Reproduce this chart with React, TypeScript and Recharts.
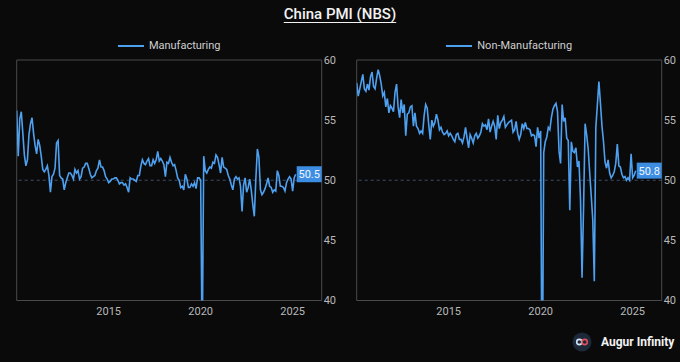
import React from 'react';
import { LineChart, Line, XAxis, YAxis, ReferenceLine, ReferenceArea, ReferenceDot, Legend } from 'recharts';

// monthly readings, Jan 2010 .. Mar 2025
const START_YEAR = 2010;
const X_MAX = 2026.58;
const yearTicks = [2015, 2020, 2025];
const pmiTicks = [40, 45, 50, 55, 60];

const manufacturing = [
    55.8, 52.0, 55.1, 55.7, 53.9, 52.1, 51.2, 51.7, 53.8, 54.7, 55.2, 53.9,
    52.9, 52.2, 53.4, 52.9, 52.0, 50.9, 50.7, 50.9, 51.2, 50.4, 49.0, 50.3,
    50.5, 51.0, 53.1, 53.3, 50.4, 50.2, 50.1, 49.2, 49.8, 50.2, 50.6, 50.6,
    50.4, 50.1, 50.9, 50.6, 50.8, 50.1, 50.3, 51.0, 51.1, 51.4, 51.4, 51.0,
    50.5, 50.2, 50.3, 50.4, 50.8, 51.0, 51.7, 51.1, 51.1, 50.8, 50.3, 50.1,
    49.8, 49.9, 50.1, 50.1, 50.2, 50.2, 50.0, 49.7, 49.8, 49.8, 49.6, 49.7,
    49.4, 49.0, 50.2, 50.1, 50.1, 50.0, 49.9, 50.4, 50.4, 51.2, 51.7, 51.4,
    51.3, 51.6, 51.8, 51.2, 51.2, 51.7, 51.4, 51.7, 52.4, 51.6, 51.8, 51.6,
    51.3, 50.3, 51.5, 51.4, 51.9, 51.5, 51.2, 51.3, 50.8, 50.2, 50.0, 49.4,
    49.5, 49.2, 50.5, 50.1, 49.4, 49.4, 49.7, 49.5, 49.8, 49.3, 50.2, 50.2,
    50.0, 35.7, 52.0, 50.8, 50.6, 50.9, 51.1, 51.0, 51.5, 51.4, 52.1, 51.9,
    51.3, 50.6, 51.9, 51.1, 51.0, 50.9, 50.4, 50.1, 49.6, 49.2, 50.1, 50.3,
    50.1, 50.2, 49.5, 47.4, 49.6, 50.2, 49.0, 49.4, 50.1, 49.2, 48.0, 47.0,
    50.1, 52.6, 51.9, 49.2, 48.8, 49.0, 49.3, 49.7, 50.2, 49.5, 49.4, 49.0,
    49.2, 49.1, 50.8, 50.4, 49.5, 49.5, 49.4, 49.1, 49.8, 50.1, 50.3, 50.1,
    49.1, 50.2, 50.5,
];

const nonManufacturing = [
    58.1, 57.0, 57.6, 58.2, 58.8, 57.6, 57.4, 58.0, 57.5, 58.6, 59.0, 57.8,
    57.6, 58.5, 59.2, 58.7, 58.0, 57.0, 57.3, 56.1, 56.8, 55.6, 56.2, 56.0,
    55.7, 57.3, 58.0, 56.1, 55.2, 56.7, 55.6, 56.3, 53.7, 55.5, 55.6, 56.1,
    56.2, 54.5, 55.6, 54.5, 54.3, 53.9, 54.1, 53.9, 55.4, 56.3, 56.0, 54.6,
    53.4, 55.0, 54.5, 54.8, 55.5, 55.0, 54.2, 54.4, 54.0, 53.8, 53.9, 54.1,
    53.7, 53.9, 53.7, 53.4, 53.2, 53.8, 53.9, 53.4, 53.4, 53.1, 53.6, 54.4,
    53.5, 52.7, 53.8, 53.5, 53.1, 53.7, 53.9, 53.5, 53.7, 54.0, 54.7, 54.5,
    54.6, 54.2, 55.1, 54.0, 54.5, 54.9, 54.5, 53.4, 55.4, 54.3, 54.8, 55.0,
    55.3, 54.4, 54.6, 54.8, 54.9, 55.0, 54.0, 54.2, 54.9, 53.9, 53.4, 53.8,
    54.7, 54.3, 54.8, 54.3, 54.3, 54.2, 53.7, 53.8, 53.7, 52.8, 54.4, 53.5,
    54.1, 29.6, 52.3, 53.2, 53.6, 54.4, 54.2, 55.2, 55.9, 56.2, 56.4, 55.7,
    52.4, 51.4, 56.3, 54.9, 55.2, 53.5, 53.3, 47.5, 53.2, 52.4, 52.3, 52.7,
    51.1, 51.6, 48.4, 41.9, 47.8, 54.7, 53.8, 52.6, 50.6, 48.7, 46.7, 41.6,
    54.4, 56.3, 58.2, 56.4, 54.5, 53.2, 51.5, 51.0, 51.7, 50.6, 50.2, 50.4,
    50.7, 51.4, 53.0, 51.2, 51.1, 50.5, 50.2, 50.3, 50.0, 50.2, 50.0, 52.2,
    50.2, 50.4, 50.8,
];

const LINE_COLOR = '#4ea1f0';
const TEXT_COLOR = '#b8b8b8';
const FONT = 'Roboto, sans-serif';

const LastTag = (props: any) => {
    const { cx, cy, label } = props;
    if (cx == null || cy == null) return null;
    return (
        <g>
            <rect x={cx + 1} y={cy - 8} width={25} height={16} fill="#3d8ee2" />
            <text x={cx + 13.5} y={cy} dy="0.36em" textAnchor="middle" fontSize={11} fill="#eef5ff" fontFamily={FONT}>
                {label}
            </text>
        </g>
    );
};

interface PanelProps {
    name: string;
    values: number[];
    left: number;
}

const Panel: React.FC<PanelProps> = ({ name, values, left }) => {
    const data = values.map((v, i) => ({ t: START_YEAR + i / 12, v }));
    const last = data[data.length - 1];
    return (
        <div style={{ position: 'absolute', left, top: 0 }}>
            <LineChart width={340} height={330} data={data} margin={{ top: 60, right: 0, left: 16.7, bottom: 9.5 }}>
                <Legend
                    layout="horizontal"
                    verticalAlign="middle"
                    wrapperStyle={{ top: 39, left: 16.7, width: 305 }}
                    content={() => (
                        <div style={{ display: 'flex', justifyContent: 'center', alignItems: 'center', gap: 5 }}>
                            <svg width={26} height={4}>
                                <line x1={0} y1={2} x2={26} y2={2} stroke={LINE_COLOR} strokeWidth={2} />
                            </svg>
                            <span style={{ color: '#cfcfcf', fontSize: 11, fontFamily: FONT }}>{name}</span>
                        </div>
                    )}
                />
                <XAxis
                    dataKey="t"
                    type="number"
                    domain={[START_YEAR, X_MAX]}
                    ticks={yearTicks}
                    allowDataOverflow
                    tickLine={false}
                    axisLine={false}
                    tickSize={6}
                    tickMargin={1}
                    height={20}
                    tick={{ fill: TEXT_COLOR, fontSize: 11, fontFamily: FONT }}
                />
                <YAxis
                    orientation="right"
                    domain={[40, 60]}
                    ticks={pmiTicks}
                    allowDataOverflow
                    tickLine={false}
                    axisLine={false}
                    tickSize={1}
                    tickMargin={1}
                    width={18.3}
                    tick={{ fill: TEXT_COLOR, fontSize: 11, fontFamily: FONT }}
                />
                <ReferenceArea x1={START_YEAR} x2={X_MAX} y1={40} y2={60} fill="none" stroke="#4a4a4a" strokeWidth={1} />
                <ReferenceLine y={50} stroke="#3e4c68" strokeDasharray="3 3" />
                <Line dataKey="v" name={name} stroke={LINE_COLOR} strokeWidth={1.6} dot={false} isAnimationActive={false} />
                <ReferenceDot x={last.t} y={last.v} r={0} shape={(p: any) => <LastTag {...p} label={last.v.toFixed(1)} />} />
            </LineChart>
        </div>
    );
};

const App: React.FC = () => {
    return (
        <div style={{ position: 'fixed', left: 0, top: 0, width: 680, height: 362, background: '#0a0a0b', overflow: 'hidden', fontFamily: FONT }}>
            <div style={{ position: 'absolute', left: 0, top: 5, width: 680, textAlign: 'center', color: '#f2f2f2', fontSize: 15, fontWeight: 500, textDecoration: 'underline', textUnderlineOffset: 3 }}>
                China PMI (NBS)
            </div>
            <Panel name="Manufacturing" values={manufacturing} left={0} />
            <Panel name="Non-Manufacturing" values={nonManufacturing} left={340} />
            <div style={{ position: 'absolute', left: 572, top: 332, display: 'flex', alignItems: 'center', gap: 9 }}>
                <svg width={20} height={20}>
                    <circle cx={10} cy={10} r={9.5} fill="#1d2938" />
                    <circle cx={7.3} cy={10} r={2.6} fill="none" stroke="#cfe0f5" strokeWidth={1.6} />
                    <circle cx={12.7} cy={10} r={2.6} fill="none" stroke="#e0505a" strokeWidth={1.6} />
                </svg>
                <span style={{ color: '#f2f2f2', fontSize: 12, fontWeight: 700 }}>Augur Infinity</span>
            </div>
        </div>
    );
};

export default App;
